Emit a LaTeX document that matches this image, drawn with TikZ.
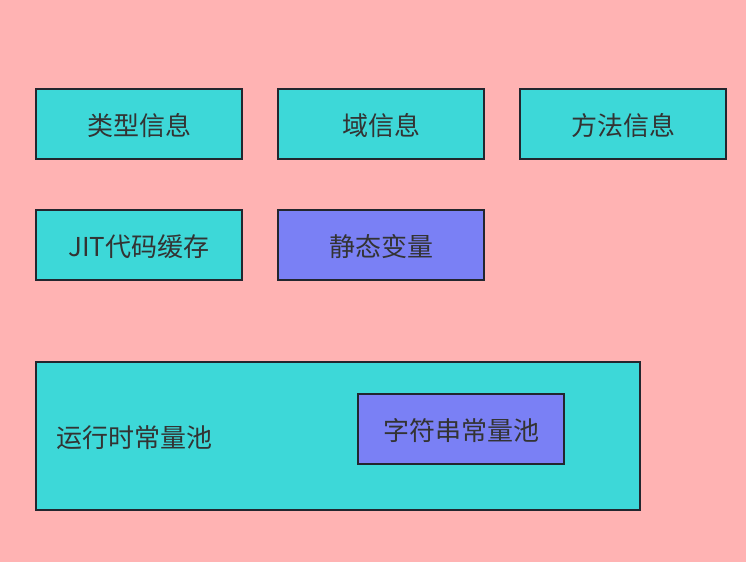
\documentclass[tikz,border=0pt]{standalone}
\usepackage{fontspec}
\setmainfont{Noto Sans CJK SC}
\definecolor{bgpink}{RGB}{255,179,179}
\definecolor{boxcyan}{RGB}{61,216,216}
\definecolor{boxblue}{RGB}{122,128,245}
\definecolor{edgedark}{RGB}{34,38,46}
\definecolor{txtdark}{RGB}{51,51,51}
\begin{document}
\begin{tikzpicture}[x=1pt,y=-1pt,
  box/.style={draw=edgedark,line width=2.3pt,fill=boxcyan,minimum width=206pt,minimum height=70pt,inner sep=0pt,text=txtdark,font=\fontsize{26}{30}\selectfont},
  bluebox/.style={box,fill=boxblue},
  lbl/.style={text=txtdark,font=\fontsize{26}{30}\selectfont,inner sep=0pt}]
\fill[bgpink] (0,0) rectangle (746,562);
\useasboundingbox (0,0) rectangle (746,562);
\node[box] (lx) at (139,124) {};
\node[box] (yu) at (381,124) {};
\node[box] (ff) at (623,124) {};
\node[box] (jit) at (139,245) {};
\node[bluebox] (jt) at (381,245) {};
\node[box,minimum width=604pt,minimum height=148pt] (rt) at (338,436) {};
\node[bluebox] (zf) at (461,429) {};
\node[lbl] (lxl) at ([yshift=-2pt]lx.center) {类型信息};
\node[lbl] (yul) at ([yshift=-2pt]yu.center) {域信息};
\node[lbl] (ffl) at ([yshift=-2pt]ff.center) {方法信息};
\node[lbl] (jitl) at ([yshift=-2pt]jit.center) {JIT代码缓存};
\node[lbl] (jtl) at ([yshift=-2pt]jt.center) {静态变量};
\node[lbl,anchor=west] (rtl) at (56,438) {运行时常量池};
\node[lbl] (zfl) at ([yshift=-2pt]zf.center) {字符串常量池};
\end{tikzpicture}
\end{document}
